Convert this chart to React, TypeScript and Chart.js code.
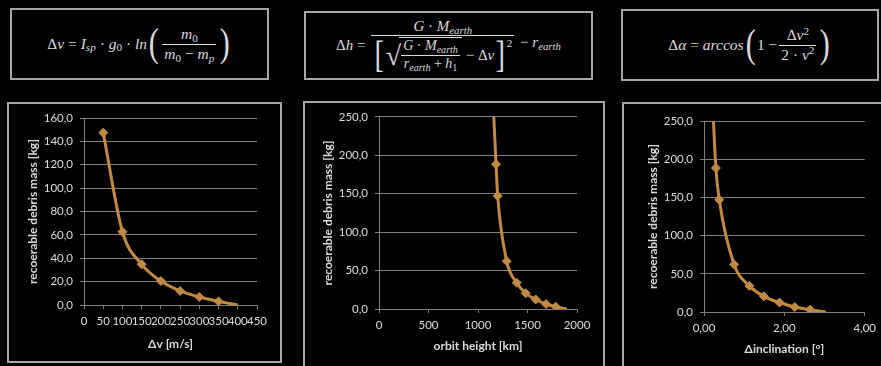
import React, { useEffect, useRef } from "react";
import { Chart, registerables } from "chart.js";

Chart.register(...registerables);

// ---- data ----
const deltaV = [50, 100, 150, 200, 250, 300, 350, 400];
const massByDeltaV = [147.4, 62.7, 34.8, 20.5, 12.0, 6.8, 3.1, 0.0];

const orbitHeight = [1145, 1182, 1199, 1290, 1391, 1482, 1583, 1687, 1785, 1896];
const massByHeight = [290, 188.5, 147.0, 62.3, 34.2, 20.5, 12.4, 6.5, 3.0, 0.0];

const deltaInclination = [0.2, 0.296, 0.38, 0.75, 1.13, 1.49, 1.88, 2.26, 2.64, 3.03];
const massByInclination = [290, 188.5, 147.0, 62.3, 34.2, 20.5, 12.4, 6.5, 3.0, 0.0];

const yTitle = "recoerable debris mass [kg]";
const xTitles = ["Δv [m/s]", "orbit height [km]", "Δinclination [°]"];

// ---- styles ----
const TEXT = "#dcdcdc";
const GRID = "#808080";
const LINE = "#c08a45";
const BOXB = "#a6a6a6";
const FONT = 'Lato, "Open Sans", sans-serif';

type Cfg = {
  xs: number[];
  ys: number[];
  hideFirst: boolean;
  xMin: number; xMax: number; xStep: number; xDec: number;
  yMax: number; yStep: number;
  xTitle: string;
  yWidth: number; xHeight: number; padRight: number; padTop: number;
  yTitlePad: number; xTitlePad: number;
};

function fmt(v: number, d: number) {
  return d === 0 ? String(v) : v.toFixed(d).replace(".", ",");
}

function ChartBox({ cfg, left, top, width, height }: { cfg: Cfg; left: number; top: number; width: number; height: number }) {
  const ref = useRef<HTMLCanvasElement | null>(null);
  useEffect(() => {
    if (!ref.current) return;
    const pts = cfg.xs.map((x, i) => ({ x, y: cfg.ys[i] }));
    const radii = pts.map((_, i) => (i === pts.length - 1 || (cfg.hideFirst && i === 0) ? 0 : 4.5));
    const chart = new Chart(ref.current, {
      type: "scatter",
      data: {
        datasets: [
          {
            data: pts,
            showLine: true,
            borderColor: LINE,
            backgroundColor: LINE,
            borderWidth: 3,
            pointStyle: "rectRot",
            pointRadius: radii,
            pointBorderWidth: 1,
            pointBorderColor: LINE,
            pointBackgroundColor: LINE,
            cubicInterpolationMode: "monotone",
          },
        ],
      },
      options: {
        animation: false,
        responsive: false,
        maintainAspectRatio: false,
        layout: { padding: { left: 0, right: cfg.padRight, top: cfg.padTop, bottom: 0 } },
        plugins: { legend: { display: false }, tooltip: { enabled: false } },
        scales: {
          x: {
            type: "linear",
            min: cfg.xMin,
            max: cfg.xMax,
            afterFit: (s: any) => { s.height = cfg.xHeight; },
            ticks: {
              stepSize: cfg.xStep,
              autoSkip: false,
              maxRotation: 0,
              minRotation: 0,
              color: TEXT,
              padding: 5,
              font: { family: FONT, size: 11.5 },
              callback: (v: any) => fmt(Number(v), cfg.xDec),
            },
            grid: { drawOnChartArea: false, drawTicks: true, tickLength: 4, color: GRID, lineWidth: 1 },
            border: { display: true, color: GRID, width: 1 },
            title: {
              display: true,
              text: cfg.xTitle,
              color: TEXT,
              font: { family: FONT, size: 12, weight: "bold" },
              padding: { top: 0, bottom: cfg.xTitlePad },
            },
          },
          y: {
            type: "linear",
            min: 0,
            max: cfg.yMax,
            afterFit: (s: any) => { s.width = cfg.yWidth; },
            ticks: {
              stepSize: cfg.yStep,
              color: TEXT,
              padding: 7,
              font: { family: FONT, size: 11.5 },
              callback: (v: any) => fmt(Number(v), 1),
            },
            grid: { drawOnChartArea: true, drawTicks: true, tickLength: 4, color: GRID, lineWidth: 1 },
            border: { display: true, color: GRID, width: 1 },
            title: {
              display: true,
              text: yTitle,
              color: TEXT,
              font: { family: FONT, size: 12, weight: "bold" },
              padding: { top: cfg.yTitlePad, bottom: 0 },
            },
          },
        },
      } as any,
    });
    return () => chart.destroy();
  }, []);
  return (
    <canvas
      ref={ref}
      width={width}
      height={height}
      style={{ position: "absolute", left, top, width, height }}
    />
  );
}

const fs: React.CSSProperties = {
  fontFamily: '"Liberation Serif", "DejaVu Serif", serif',
  fontStyle: "italic",
  color: TEXT,
  fontSize: 15.5,
  display: "flex",
  alignItems: "center",
  justifyContent: "center",
  position: "absolute",
  whiteSpace: "nowrap",
};

const up: React.CSSProperties = { fontStyle: "normal" };

function Sub({ children, upright }: { children: React.ReactNode; upright?: boolean }) {
  return (
    <span style={{ fontSize: "0.72em", position: "relative", top: "0.3em", fontStyle: upright ? "normal" : "italic" }}>
      {children}
    </span>
  );
}
function Sup({ children }: { children: React.ReactNode }) {
  return <span style={{ fontSize: "0.72em", position: "relative", top: "-0.45em", fontStyle: "normal" }}>{children}</span>;
}
function Frac({ num, den, size }: { num: React.ReactNode; den: React.ReactNode; size?: number }) {
  return (
    <span style={{ display: "inline-flex", flexDirection: "column", alignItems: "stretch", margin: "0 2px", fontSize: size }}>
      <span style={{ textAlign: "center", padding: "0 2px", lineHeight: 1.2 }}>{num}</span>
      <span style={{ textAlign: "center", padding: "0 2px", lineHeight: 1.2, borderTop: `1px solid ${TEXT}` }}>{den}</span>
    </span>
  );
}
function Big({ ch, size }: { ch: string; size: number }) {
  return (
    <span style={{ fontStyle: "normal", fontSize: size, lineHeight: 1, display: "inline-block", transform: "scaleX(0.75)", position: "relative", top: -1 }}>
      {ch}
    </span>
  );
}
const dot = <span style={up}>&nbsp;·&nbsp;</span>;

function Formula1() {
  return (
    <div style={{ ...fs, left: 10, top: 8, width: 259, height: 72 }}>
      <span style={up}>Δ</span>v<span style={up}>&nbsp;=&nbsp;</span>I<Sub>sp</Sub>
      {dot}g<Sub upright>0</Sub>
      {dot}ln
      <Big ch="(" size={40} />
      <Frac
        num={<>m<Sub upright>0</Sub></>}
        den={<>m<Sub upright>0</Sub><span style={up}>&nbsp;−&nbsp;</span>m<Sub>p</Sub></>}
      />
      <Big ch=")" size={40} />
    </div>
  );
}

function Formula2() {
  const inner = (
    <Frac
      size={14}
      num={<>G<span style={up}>&nbsp;·&nbsp;</span>M<Sub>earth</Sub></>}
      den={<>r<Sub>earth</Sub><span style={up}>&nbsp;+&nbsp;</span>h<Sub upright>1</Sub></>}
    />
  );
  const den = (
    <span style={{ display: "inline-flex", alignItems: "center" }}>
      <Big ch="[" size={38} />
      <span style={{ ...up, fontSize: 28, lineHeight: 1, position: "relative", top: 1 }}>√</span>
      <span style={{ borderTop: `1px solid ${TEXT}`, display: "inline-flex", marginLeft: -2 }}>{inner}</span>
      <span style={up}>&nbsp;−&nbsp;Δ</span>v
      <Big ch="]" size={38} />
      <span style={{ ...up, fontSize: 11, alignSelf: "flex-start", marginTop: 1 }}>2</span>
    </span>
  );
  return (
    <div style={{ ...fs, left: 304, top: 11, width: 289, height: 69, fontSize: 15 }}>
      <span style={up}>Δ</span>h<span style={up}>&nbsp;=&nbsp;</span>
      <Frac num={<>G<span style={up}>&nbsp;·&nbsp;</span>M<Sub>earth</Sub></>} den={den} />
      <span style={{ position: "relative", top: -3, display: "inline-flex", alignItems: "center" }}>
        <span style={up}>&nbsp;−&nbsp;</span>r<Sub>earth</Sub>
      </span>
    </div>
  );
}

function Formula3() {
  return (
    <div style={{ ...fs, left: 621, top: 9, width: 258, height: 72 }}>
      <span style={up}>Δ</span>α<span style={up}>&nbsp;=&nbsp;</span>arccos
      <Big ch="(" size={40} />
      <span style={up}>1&nbsp;−</span>
      <Frac
        num={<><span style={up}>Δ</span>v<Sup>2</Sup></>}
        den={<><span style={up}>2&nbsp;·&nbsp;</span>v<Sup>2</Sup></>}
      />
      <Big ch=")" size={40} />
    </div>
  );
}

function Box({ left, top, width, height }: { left: number; top: number; width: number; height: number }) {
  return (
    <div
      style={{
        position: "absolute",
        left,
        top,
        width,
        height,
        border: `2px solid ${BOXB}`,
        boxSizing: "border-box",
      }}
    />
  );
}

const cfg1: Cfg = {
  xs: deltaV, ys: massByDeltaV, hideFirst: false,
  xMin: 0, xMax: 450, xStep: 50, xDec: 0,
  yMax: 160, yStep: 20, xTitle: xTitles[0],
  yWidth: 75, xHeight: 56, padRight: 23, padTop: 14, yTitlePad: 17, xTitlePad: 10,
};
const cfg2: Cfg = {
  xs: orbitHeight, ys: massByHeight, hideFirst: true,
  xMin: 0, xMax: 2000, xStep: 500, xDec: 0,
  yMax: 250, yStep: 50, xTitle: xTitles[1],
  yWidth: 74, xHeight: 57, padRight: 26, padTop: 12, yTitlePad: 16, xTitlePad: 13,
};
const cfg3: Cfg = {
  xs: deltaInclination, ys: massByInclination, hideFirst: true,
  xMin: 0, xMax: 4, xStep: 2, xDec: 2,
  yMax: 250, yStep: 50, xTitle: xTitles[2],
  yWidth: 80, xHeight: 54, padRight: 15, padTop: 17, yTitlePad: 22, xTitlePad: 10,
};

export default function App() {
  return (
    <div style={{ position: "fixed", left: 0, top: 0, width: 881, height: 366, background: "#000", overflow: "hidden" }}>
      <Box left={10} top={8} width={259} height={72} />
      <Box left={304} top={11} width={289} height={69} />
      <Box left={621} top={9} width={258} height={72} />
      <Formula1 />
      <Formula2 />
      <Formula3 />
      <Box left={7} top={102} width={275} height={261} />
      <Box left={303} top={101} width={302} height={275} />
      <Box left={622} top={102} width={270} height={275} />
      <ChartBox cfg={cfg1} left={9} top={104} width={271} height={257} />
      <ChartBox cfg={cfg2} left={305} top={103} width={298} height={263} />
      <ChartBox cfg={cfg3} left={624} top={104} width={257} height={262} />
    </div>
  );
}
